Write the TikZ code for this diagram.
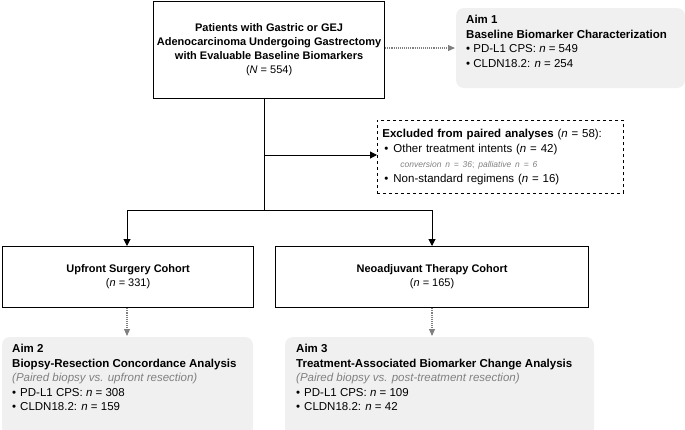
\documentclass[tikz,border=0pt]{standalone}
\usepackage{fontspec}
\setmainfont{Liberation Sans}
\usetikzlibrary{arrows.meta}
\begin{document}
\begin{tikzpicture}[x=1pt,y=-1pt,
  main/.style={draw,line width=1.2pt,align=center,font=\fontsize{11}{14}\selectfont},
  aim/.style={align=left,anchor=north west,inner sep=0pt,font=\fontsize{11.5}{14.5}\selectfont},
  dotarr/.style={gray,densely dotted,line width=1.1pt,-{Triangle[length=7pt,width=6pt]}},
  solarr/.style={line width=1pt,-{Triangle[length=7pt,width=7pt]}}]
\useasboundingbox (0,0) rectangle (685,429);
\node[main,minimum width=222pt,minimum height=97pt,anchor=north west] (top) at (153,1)
 {\textbf{Patients with Gastric or GEJ}\\\textbf{Adenocarcinoma Undergoing Gastrectomy}\\\textbf{with Evaluable Baseline Biomarkers}\\(\textit{N} = 554)};
\fill[black!6,rounded corners=8pt] (456,8) rectangle (685,88);
\node[aim] (aim1) at (466,15) {\textbf{Aim 1}\\\textbf{Baseline Biomarker Characterization}\\• PD-L1 CPS: \textit{n} = 549\\• CLDN18.2: \textit{n} = 254};
\coordinate (a1in) at (455,48);
\draw[dotarr] (top.east|-a1in) -- (a1in);
\node[draw,dashed,line width=0.8pt,anchor=north west,minimum width=246pt,minimum height=73pt,align=left,font=\fontsize{11.5}{15}\selectfont,text width=236pt] (exc) at (377,120)
 {\textbf{Excluded from paired analyses} (\textit{n} = 58):\\
 \hspace*{2pt}•\hspace{5pt}Other treatment intents (\textit{n} = 42)\\
 \hspace*{18pt}{\color{gray}\fontsize{8.5}{10}\selectfont\itshape conversion n = 36}{\color{gray}\fontsize{8.5}{10}\selectfont; \itshape palliative n = 6}\\
 \hspace*{2pt}•\hspace{5pt}Non-standard regimens (\textit{n} = 16)};
\node[main,minimum width=251pt,minimum height=61pt,anchor=north west] (up) at (2,246)
 {\textbf{Upfront Surgery Cohort}\\(\textit{n} = 331)};
\node[main,minimum width=313pt,minimum height=61pt,anchor=north west] (neo) at (275,246)
 {\textbf{Neoadjuvant Therapy Cohort}\\(\textit{n} = 165)};
\coordinate (j1) at (264,155);
\coordinate (j2) at (264,210);
\coordinate (l1) at (127,210);
\coordinate (r1) at (432,210);
\draw[line width=1pt] (j2|-top.south) -- (j2);
\draw[solarr] (j1) -- (exc.west|-j1);
\draw[line width=1pt] (l1) -- (r1);
\draw[solarr] (l1) -- (l1|-up.north);
\draw[solarr] (r1) -- (r1|-neo.north);
\fill[black!6,rounded corners=8pt] (2,337) rectangle (253,436);
\fill[black!6,rounded corners=8pt] (285,337) rectangle (594,436);
\node[aim] (aim2) at (12,344) {\textbf{Aim 2}\\\textbf{Biopsy-Resection Concordance Analysis}\\{\color{gray}\itshape (Paired biopsy vs. upfront resection)}\\•\hspace{4pt}PD-L1 CPS: \textit{n} = 308\\•\hspace{4pt}CLDN18.2: \textit{n} = 159};
\node[aim] (aim3) at (296,344) {\textbf{Aim 3}\\\textbf{Treatment-Associated Biomarker Change Analysis}\\{\color{gray}\itshape (Paired biopsy vs. post-treatment resection)}\\•\hspace{4pt}PD-L1 CPS: \textit{n} = 109\\•\hspace{4pt}CLDN18.2: \textit{n} = 42};
\coordinate (a2in) at (127,336);
\coordinate (a3in) at (432,336);
\draw[dotarr] (a2in|-up.south) -- (a2in);
\draw[dotarr] (a3in|-neo.south) -- (a3in);
\end{tikzpicture}
\end{document}
